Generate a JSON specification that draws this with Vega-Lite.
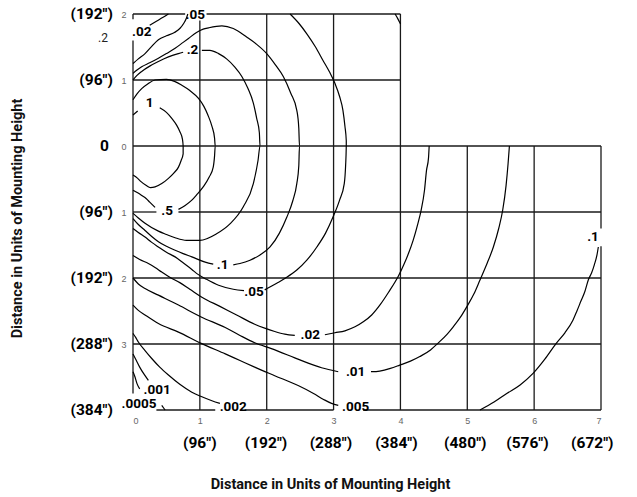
{
"$schema": "https://vega.github.io/schema/vega-lite/v6.json",
"width": 468, "height": 396,
"autosize": {"type": "none"},
"padding": {"left": 133, "top": 14, "right": 36, "bottom": 87},
"background": "white",
"config": {"view": {"stroke": null}},
"datasets": {
"grid": [
{"x":0,"x2":0,"y":2,"y2":1.92},{"x":0,"x2":0,"y":1.6,"y2":-3.75},
{"x":1,"x2":1,"y":1.9,"y2":-4},{"x":2,"x2":2,"y":2,"y2":-4},{"x":3,"x2":3,"y":2,"y2":-4},{"x":4,"x2":4,"y":2,"y2":-4},
{"x":5,"x2":5,"y":0,"y2":-4},{"x":6,"x2":6,"y":0,"y2":-4},
{"x":7,"x2":7,"y":0,"y2":-1.25},{"x":7,"x2":7,"y":-1.52,"y2":-4},
{"x":0,"x2":0.78,"y":2,"y2":2},{"x":1.1,"x2":4,"y":2,"y2":2},
{"x":0,"x2":4,"y":1,"y2":1},{"x":0,"x2":7,"y":0,"y2":0},
{"x":0,"x2":0.35,"y":-1,"y2":-1},{"x":0.68,"x2":7,"y":-1,"y2":-1},
{"x":0,"x2":7,"y":-2,"y2":-2},{"x":0,"x2":7,"y":-3,"y2":-3},
{"x":0.35,"x2":1.23,"y":-4,"y2":-4},{"x":1.67,"x2":3.0,"y":-4,"y2":-4},{"x":3.44,"x2":7,"y":-4,"y2":-4}
],
"contours": [
{"s":"1a","o":1,"x":0,"y":0.47},{"s":"1a","o":2,"x":0.07,"y":0.53},
{"s":"1b","o":1,"x":0.40,"y":0.58},{"s":"1b","o":2,"x":0.50,"y":0.51},{"s":"1b","o":3,"x":0.58,"y":0.42},{"s":"1b","o":4,"x":0.65,"y":0.32},{"s":"1b","o":5,"x":0.70,"y":0.22},{"s":"1b","o":6,"x":0.74,"y":0.10},{"s":"1b","o":7,"x":0.75,"y":0},{"s":"1b","o":8,"x":0.75,"y":-0.12},{"s":"1b","o":9,"x":0.72,"y":-0.22},{"s":"1b","o":10,"x":0.68,"y":-0.32},{"s":"1b","o":11,"x":0.61,"y":-0.41},{"s":"1b","o":12,"x":0.53,"y":-0.49},{"s":"1b","o":13,"x":0.43,"y":-0.57},{"s":"1b","o":14,"x":0.33,"y":-0.62},{"s":"1b","o":15,"x":0.26,"y":-0.63},{"s":"1b","o":16,"x":0.2,"y":-0.6},{"s":"1b","o":17,"x":0.12,"y":-0.54},{"s":"1b","o":18,"x":0.07,"y":-0.49},{"s":"1b","o":19,"x":0,"y":-0.44},
{"s":"5a","o":1,"x":0,"y":0.70},{"s":"5a","o":2,"x":0.06,"y":0.79},{"s":"5a","o":3,"x":0.13,"y":0.87},{"s":"5a","o":4,"x":0.22,"y":0.94},{"s":"5a","o":5,"x":0.33,"y":1.0},{"s":"5a","o":6,"x":0.5,"y":1.01},{"s":"5a","o":7,"x":0.62,"y":0.98},{"s":"5a","o":8,"x":0.73,"y":0.92},{"s":"5a","o":9,"x":0.85,"y":0.84},{"s":"5a","o":10,"x":0.98,"y":0.72},{"s":"5a","o":11,"x":1.06,"y":0.6},{"s":"5a","o":12,"x":1.12,"y":0.47},{"s":"5a","o":13,"x":1.18,"y":0.3},{"s":"5a","o":14,"x":1.22,"y":0.12},{"s":"5a","o":15,"x":1.23,"y":0},{"s":"5a","o":16,"x":1.22,"y":-0.15},{"s":"5a","o":17,"x":1.20,"y":-0.32},{"s":"5a","o":18,"x":1.14,"y":-0.47},{"s":"5a","o":19,"x":1.05,"y":-0.62},{"s":"5a","o":20,"x":0.96,"y":-0.73},{"s":"5a","o":21,"x":0.88,"y":-0.82},{"s":"5a","o":22,"x":0.78,"y":-0.9},{"s":"5a","o":23,"x":0.68,"y":-0.96},
{"s":"5b","o":1,"x":0,"y":-0.67},{"s":"5b","o":2,"x":0.07,"y":-0.71},{"s":"5b","o":3,"x":0.13,"y":-0.75},{"s":"5b","o":4,"x":0.2,"y":-0.8},{"s":"5b","o":5,"x":0.25,"y":-0.85},{"s":"5b","o":6,"x":0.33,"y":-0.93},
{"s":"2a","o":1,"x":0,"y":1.0},{"s":"2a","o":2,"x":0.06,"y":1.07},{"s":"2a","o":3,"x":0.13,"y":1.13},{"s":"2a","o":4,"x":0.25,"y":1.21},{"s":"2a","o":5,"x":0.38,"y":1.28},{"s":"2a","o":6,"x":0.53,"y":1.35},{"s":"2a","o":7,"x":0.68,"y":1.40},{"s":"2a","o":8,"x":0.75,"y":1.42},
{"s":"2b","o":1,"x":1.03,"y":1.45},{"s":"2b","o":2,"x":1.15,"y":1.45},{"s":"2b","o":3,"x":1.28,"y":1.40},{"s":"2b","o":4,"x":1.40,"y":1.32},{"s":"2b","o":5,"x":1.52,"y":1.20},{"s":"2b","o":6,"x":1.63,"y":1.05},{"s":"2b","o":7,"x":1.72,"y":0.87},{"s":"2b","o":8,"x":1.80,"y":0.65},{"s":"2b","o":9,"x":1.85,"y":0.42},{"s":"2b","o":10,"x":1.89,"y":0.2},{"s":"2b","o":11,"x":1.9,"y":0},{"s":"2b","o":12,"x":1.87,"y":-0.22},{"s":"2b","o":13,"x":1.8,"y":-0.57},{"s":"2b","o":14,"x":1.65,"y":-0.92},{"s":"2b","o":15,"x":1.45,"y":-1.18},{"s":"2b","o":16,"x":1.25,"y":-1.33},{"s":"2b","o":17,"x":1.0,"y":-1.43},{"s":"2b","o":18,"x":0.8,"y":-1.43},{"s":"2b","o":19,"x":0.63,"y":-1.39},{"s":"2b","o":20,"x":0.5,"y":-1.34},{"s":"2b","o":21,"x":0.38,"y":-1.29},{"s":"2b","o":22,"x":0.18,"y":-1.17},{"s":"2b","o":23,"x":0.08,"y":-1.09},{"s":"2b","o":24,"x":0,"y":-1.02},
{"s":"1ua","o":1,"x":0,"y":1.1},{"s":"1ua","o":2,"x":0.06,"y":1.15},{"s":"1ua","o":3,"x":0.13,"y":1.20},{"s":"1ua","o":4,"x":0.25,"y":1.26},{"s":"1ua","o":5,"x":0.38,"y":1.33},{"s":"1ua","o":6,"x":0.5,"y":1.40},{"s":"1ua","o":7,"x":0.63,"y":1.48},{"s":"1ua","o":8,"x":0.75,"y":1.57},{"s":"1ua","o":9,"x":0.83,"y":1.63},{"s":"1ua","o":10,"x":0.95,"y":1.72},{"s":"1ua","o":11,"x":1.05,"y":1.77},{"s":"1ua","o":12,"x":1.13,"y":1.79},{"s":"1ua","o":13,"x":1.33,"y":1.82},{"s":"1ua","o":14,"x":1.50,"y":1.78},{"s":"1ua","o":15,"x":1.70,"y":1.65},{"s":"1ua","o":16,"x":1.85,"y":1.54},{"s":"1ua","o":17,"x":2.0,"y":1.40},{"s":"1ua","o":18,"x":2.13,"y":1.23},{"s":"1ua","o":19,"x":2.25,"y":1.05},{"s":"1ua","o":20,"x":2.36,"y":0.8},{"s":"1ua","o":21,"x":2.45,"y":0.54},{"s":"1ua","o":22,"x":2.48,"y":0.27},{"s":"1ua","o":23,"x":2.49,"y":0},{"s":"1ua","o":24,"x":2.48,"y":-0.3},{"s":"1ua","o":25,"x":2.45,"y":-0.57},{"s":"1ua","o":26,"x":2.39,"y":-0.83},{"s":"1ua","o":27,"x":2.3,"y":-1.08},{"s":"1ua","o":28,"x":2.19,"y":-1.32},{"s":"1ua","o":29,"x":2.05,"y":-1.53},{"s":"1ua","o":30,"x":1.9,"y":-1.65},{"s":"1ua","o":31,"x":1.75,"y":-1.73},{"s":"1ua","o":32,"x":1.6,"y":-1.78},{"s":"1ua","o":33,"x":1.5,"y":-1.80},
{"s":"1ub","o":1,"x":1.20,"y":-1.79},{"s":"1ub","o":2,"x":1.08,"y":-1.76},{"s":"1ub","o":3,"x":0.88,"y":-1.68},{"s":"1ub","o":4,"x":0.75,"y":-1.63},{"s":"1ub","o":5,"x":0.63,"y":-1.58},{"s":"1ub","o":6,"x":0.5,"y":-1.52},{"s":"1ub","o":7,"x":0.38,"y":-1.45},{"s":"1ub","o":8,"x":0.28,"y":-1.37},{"s":"1ub","o":9,"x":0.18,"y":-1.28},{"s":"1ub","o":10,"x":0.08,"y":-1.19},{"s":"1ub","o":11,"x":0,"y":-1.1},
{"s":"05a","o":1,"x":0,"y":1.25},{"s":"05a","o":2,"x":0.08,"y":1.32},{"s":"05a","o":3,"x":0.18,"y":1.40},{"s":"05a","o":4,"x":0.28,"y":1.51},{"s":"05a","o":5,"x":0.38,"y":1.61},{"s":"05a","o":6,"x":0.5,"y":1.67},{"s":"05a","o":7,"x":0.62,"y":1.72},{"s":"05a","o":8,"x":0.70,"y":1.78},{"s":"05a","o":9,"x":0.76,"y":1.86},{"s":"05a","o":10,"x":0.80,"y":1.94},{"s":"05a","o":11,"x":0.82,"y":2.0},
{"s":"05b","o":1,"x":2.35,"y":2.0},{"s":"05b","o":2,"x":2.48,"y":1.86},{"s":"05b","o":3,"x":2.6,"y":1.70},{"s":"05b","o":4,"x":2.73,"y":1.5},{"s":"05b","o":5,"x":2.84,"y":1.30},{"s":"05b","o":6,"x":2.94,"y":1.12},{"s":"05b","o":7,"x":3.02,"y":0.95},{"s":"05b","o":8,"x":3.09,"y":0.75},{"s":"05b","o":9,"x":3.14,"y":0.54},{"s":"05b","o":10,"x":3.17,"y":0.3},{"s":"05b","o":11,"x":3.19,"y":0.08},{"s":"05b","o":12,"x":3.19,"y":0},{"s":"05b","o":13,"x":3.18,"y":-0.3},{"s":"05b","o":14,"x":3.16,"y":-0.57},{"s":"05b","o":15,"x":3.09,"y":-0.82},{"s":"05b","o":16,"x":2.99,"y":-1.08},{"s":"05b","o":17,"x":2.88,"y":-1.32},{"s":"05b","o":18,"x":2.75,"y":-1.53},{"s":"05b","o":19,"x":2.6,"y":-1.73},{"s":"05b","o":20,"x":2.45,"y":-1.88},{"s":"05b","o":21,"x":2.3,"y":-1.99},{"s":"05b","o":22,"x":2.15,"y":-2.08},{"s":"05b","o":23,"x":1.97,"y":-2.18},
{"s":"05c","o":1,"x":1.66,"y":-2.19},{"s":"05c","o":2,"x":1.5,"y":-2.17},{"s":"05c","o":3,"x":1.28,"y":-2.11},{"s":"05c","o":4,"x":1.1,"y":-2.02},{"s":"05c","o":5,"x":0.95,"y":-1.93},{"s":"05c","o":6,"x":0.88,"y":-1.87},{"s":"05c","o":7,"x":0.75,"y":-1.77},{"s":"05c","o":8,"x":0.63,"y":-1.68},{"s":"05c","o":9,"x":0.5,"y":-1.61},{"s":"05c","o":10,"x":0.38,"y":-1.53},{"s":"05c","o":11,"x":0.28,"y":-1.46},{"s":"05c","o":12,"x":0.18,"y":-1.38},{"s":"05c","o":13,"x":0.08,"y":-1.31},{"s":"05c","o":14,"x":0,"y":-1.25},
{"s":"02a","o":1,"x":0.25,"y":1.83},{"s":"02a","o":2,"x":0.35,"y":1.89},{"s":"02a","o":3,"x":0.45,"y":1.95},{"s":"02a","o":4,"x":0.53,"y":2.0},
{"s":"02b","o":1,"x":3.92,"y":2.0},{"s":"02b","o":2,"x":3.96,"y":1.93},{"s":"02b","o":3,"x":4.0,"y":1.85},
{"s":"02c","o":1,"x":4.43,"y":0},{"s":"02c","o":2,"x":4.42,"y":-0.18},{"s":"02c","o":3,"x":4.39,"y":-0.37},{"s":"02c","o":4,"x":4.36,"y":-0.67},{"s":"02c","o":5,"x":4.31,"y":-0.97},{"s":"02c","o":6,"x":4.26,"y":-1.18},{"s":"02c","o":7,"x":4.19,"y":-1.43},{"s":"02c","o":8,"x":4.12,"y":-1.63},{"s":"02c","o":9,"x":4.05,"y":-1.8},{"s":"02c","o":10,"x":3.97,"y":-1.97},{"s":"02c","o":11,"x":3.82,"y":-2.22},{"s":"02c","o":12,"x":3.7,"y":-2.4},{"s":"02c","o":13,"x":3.57,"y":-2.56},{"s":"02c","o":14,"x":3.45,"y":-2.66},{"s":"02c","o":15,"x":3.32,"y":-2.74},{"s":"02c","o":16,"x":3.17,"y":-2.8},{"s":"02c","o":17,"x":3.02,"y":-2.83},{"s":"02c","o":18,"x":2.87,"y":-2.86},
{"s":"02d","o":1,"x":2.42,"y":-2.87},{"s":"02d","o":2,"x":2.27,"y":-2.85},{"s":"02d","o":3,"x":2.12,"y":-2.81},{"s":"02d","o":4,"x":1.97,"y":-2.76},{"s":"02d","o":5,"x":1.82,"y":-2.70},{"s":"02d","o":6,"x":1.55,"y":-2.56},{"s":"02d","o":7,"x":1.3,"y":-2.43},{"s":"02d","o":8,"x":1.03,"y":-2.29},{"s":"02d","o":9,"x":0.85,"y":-2.17},{"s":"02d","o":10,"x":0.7,"y":-2.07},{"s":"02d","o":11,"x":0.55,"y":-1.99},{"s":"02d","o":12,"x":0.43,"y":-1.91},{"s":"02d","o":13,"x":0.33,"y":-1.84},{"s":"02d","o":14,"x":0.23,"y":-1.78},{"s":"02d","o":15,"x":0.1,"y":-1.72},{"s":"02d","o":16,"x":0,"y":-1.66},
{"s":"01a","o":1,"x":0,"y":-2.0},{"s":"01a","o":2,"x":0.08,"y":-2.09},{"s":"01a","o":3,"x":0.18,"y":-2.16},{"s":"01a","o":4,"x":0.38,"y":-2.26},{"s":"01a","o":5,"x":0.68,"y":-2.41},{"s":"01a","o":6,"x":1.02,"y":-2.59},{"s":"01a","o":7,"x":1.38,"y":-2.75},{"s":"01a","o":8,"x":1.6,"y":-2.87},{"s":"01a","o":9,"x":1.82,"y":-2.98},{"s":"01a","o":10,"x":2.07,"y":-3.07},{"s":"01a","o":11,"x":2.42,"y":-3.21},{"s":"01a","o":12,"x":2.62,"y":-3.29},{"s":"01a","o":13,"x":2.82,"y":-3.36},{"s":"01a","o":14,"x":3.07,"y":-3.42},
{"s":"01b","o":1,"x":3.56,"y":-3.42},{"s":"01b","o":2,"x":3.69,"y":-3.41},{"s":"01b","o":3,"x":3.85,"y":-3.37},{"s":"01b","o":4,"x":3.99,"y":-3.32},{"s":"01b","o":5,"x":4.15,"y":-3.26},{"s":"01b","o":6,"x":4.29,"y":-3.19},{"s":"01b","o":7,"x":4.45,"y":-3.09},{"s":"01b","o":8,"x":4.56,"y":-2.99},{"s":"01b","o":9,"x":4.7,"y":-2.85},{"s":"01b","o":10,"x":4.79,"y":-2.74},{"s":"01b","o":11,"x":4.9,"y":-2.59},{"s":"01b","o":12,"x":4.99,"y":-2.44},{"s":"01b","o":13,"x":5.1,"y":-2.24},{"s":"01b","o":14,"x":5.19,"y":-2.03},{"s":"01b","o":15,"x":5.3,"y":-1.77},{"s":"01b","o":16,"x":5.39,"y":-1.53},{"s":"01b","o":17,"x":5.47,"y":-1.25},{"s":"01b","o":18,"x":5.53,"y":-0.97},{"s":"01b","o":19,"x":5.58,"y":-0.6},{"s":"01b","o":20,"x":5.61,"y":-0.27},{"s":"01b","o":21,"x":5.63,"y":0},
{"s":"005","o":1,"x":0,"y":-2.41},{"s":"005","o":2,"x":0.08,"y":-2.49},{"s":"005","o":3,"x":0.18,"y":-2.56},{"s":"005","o":4,"x":0.38,"y":-2.69},{"s":"005","o":5,"x":0.68,"y":-2.82},{"s":"005","o":6,"x":1.02,"y":-2.99},{"s":"005","o":7,"x":1.38,"y":-3.15},{"s":"005","o":8,"x":1.6,"y":-3.25},{"s":"005","o":9,"x":1.82,"y":-3.35},{"s":"005","o":10,"x":2.12,"y":-3.48},{"s":"005","o":11,"x":2.47,"y":-3.63},{"s":"005","o":12,"x":2.7,"y":-3.75},{"s":"005","o":13,"x":2.85,"y":-3.84},{"s":"005","o":14,"x":2.97,"y":-3.9},{"s":"005","o":15,"x":3.07,"y":-3.93},
{"s":"002","o":1,"x":0,"y":-2.84},{"s":"002","o":2,"x":0.04,"y":-2.9},{"s":"002","o":3,"x":0.08,"y":-2.97},{"s":"002","o":4,"x":0.18,"y":-3.1},{"s":"002","o":5,"x":0.28,"y":-3.22},{"s":"002","o":6,"x":0.4,"y":-3.35},{"s":"002","o":7,"x":0.53,"y":-3.47},{"s":"002","o":8,"x":0.7,"y":-3.61},{"s":"002","o":9,"x":0.88,"y":-3.73},{"s":"002","o":10,"x":1.03,"y":-3.8},{"s":"002","o":11,"x":1.18,"y":-3.86},{"s":"002","o":12,"x":1.30,"y":-3.9},
{"s":"001","o":1,"x":0,"y":-3.15},{"s":"001","o":2,"x":0.05,"y":-3.25},{"s":"001","o":3,"x":0.1,"y":-3.35},{"s":"001","o":4,"x":0.16,"y":-3.45},{"s":"001","o":5,"x":0.23,"y":-3.55},
{"s":"0005","o":1,"x":0,"y":-3.42},{"s":"0005","o":2,"x":0.03,"y":-3.5},{"s":"0005","o":3,"x":0.06,"y":-3.6},{"s":"0005","o":4,"x":0.1,"y":-3.68},
{"s":"0005t","o":1,"x":0.43,"y":-3.93},{"s":"0005t","o":2,"x":0.48,"y":-4.0},
{"s":"1r","o":1,"x":6.96,"y":-1.53},{"s":"1r","o":2,"x":6.94,"y":-1.65},{"s":"1r","o":3,"x":6.90,"y":-1.80},{"s":"1r","o":4,"x":6.86,"y":-1.92},{"s":"1r","o":5,"x":6.81,"y":-2.03},{"s":"1r","o":6,"x":6.76,"y":-2.2},{"s":"1r","o":7,"x":6.70,"y":-2.35},{"s":"1r","o":8,"x":6.64,"y":-2.5},{"s":"1r","o":9,"x":6.58,"y":-2.64},{"s":"1r","o":10,"x":6.46,"y":-2.83},{"s":"1r","o":11,"x":6.33,"y":-2.99},{"s":"1r","o":12,"x":6.16,"y":-3.23},{"s":"1r","o":13,"x":5.98,"y":-3.45},{"s":"1r","o":14,"x":5.79,"y":-3.62},{"s":"1r","o":15,"x":5.59,"y":-3.75},{"s":"1r","o":16,"x":5.4,"y":-3.88},{"s":"1r","o":17,"x":5.19,"y":-4.0}
],
"labels": [
{"t":"1","x":0.25,"y":0.65},{"t":".5","x":0.51,"y":-0.99},{"t":".2","x":0.89,"y":1.46},{"t":".1","x":1.34,"y":-1.81},
{"t":".05","x":0.93,"y":1.99},{"t":".05","x":1.81,"y":-2.21},{"t":".02","x":0.13,"y":1.72},{"t":".02","x":2.65,"y":-2.86},
{"t":".01","x":3.33,"y":-3.42},{"t":".005","x":3.33,"y":-3.95},{"t":".002","x":1.50,"y":-3.95},{"t":".001","x":0.36,"y":-3.69},
{"t":".0005","x":0.09,"y":-3.91},{"t":".1","x":6.88,"y":-1.38}
],
"stray": [{"t":".2","x":-0.45,"y":1.63}],
"left": [
{"t":"(192\")","x":-0.30,"y":2},{"t":"(96\")","x":-0.30,"y":1},{"t":"0","x":-0.36,"y":0},{"t":"(96\")","x":-0.30,"y":-1},
{"t":"(192\")","x":-0.30,"y":-2},{"t":"(288\")","x":-0.30,"y":-3},{"t":"(384\")","x":-0.30,"y":-4}
],
"bottom": [
{"t":"(96\")","x":1.0,"y":-4.5},{"t":"(192\")","x":1.99,"y":-4.5},{"t":"(288\")","x":2.96,"y":-4.5},{"t":"(384\")","x":3.94,"y":-4.5},
{"t":"(480\")","x":4.97,"y":-4.5},{"t":"(576\")","x":5.9,"y":-4.5},{"t":"(672\")","x":6.87,"y":-4.5}
]
},
"encoding": {
  "x": {"field": "x", "type": "quantitative", "scale": {"domain": [0, 7], "nice": false, "zero": false},
        "axis": {"values": [0,1,2,3,4,5,6,7], "domain": false, "ticks": false, "grid": false, "labelFont": "Liberation Sans", "labelFontSize": 9, "labelColor": "#666", "labelPadding": 6,
                 "title": "Distance in Units of Mounting Height", "titleFont": "Roboto", "titleFontSize": 14.5, "titleFontWeight": "bold", "titleColor": "#111", "titleX": 197, "titleY": 74, "titleAlign": "center", "titleBaseline": "middle"}},
  "y": {"field": "y", "type": "quantitative", "scale": {"domain": [-4, 2], "nice": false, "zero": false},
        "axis": {"values": [2,1,0,-1,-2,-3], "labelExpr": "abs(datum.value)", "domain": false, "ticks": false, "grid": false, "labelFont": "Liberation Sans", "labelFontSize": 9, "labelColor": "#666", "labelPadding": 7,
                 "title": "Distance in Units of Mounting Height", "titleFont": "Roboto", "titleFontSize": 14.5, "titleFontWeight": "bold", "titleColor": "#111", "titleX": -116, "titleY": 204, "titleAngle": -90, "titleAlign": "center", "titleBaseline": "middle"}}
},
"layer": [
{"data": {"name": "grid"},
 "mark": {"type": "rule", "stroke": "#1a1a1a", "strokeWidth": 1.3},
 "encoding": {"x2": {"field": "x2"}, "y2": {"field": "y2"}}},
{"data": {"name": "contours"},
 "mark": {"type": "line", "stroke": "#000", "strokeWidth": 1.2, "interpolate": "monotone", "clip": false},
 "encoding": {"detail": {"field": "s"}, "order": {"field": "o", "type": "quantitative"}}},
{"data": {"name": "labels"},
 "mark": {"type": "text", "font": "Roboto", "fontWeight": "bold", "fontSize": 13.5, "color": "#000", "align": "center", "baseline": "middle", "clip": false},
 "encoding": {"text": {"field": "t"}}},
{"data": {"name": "stray"},
 "mark": {"type": "text", "font": "Roboto", "fontSize": 12, "color": "#222", "align": "center", "baseline": "middle", "clip": false},
 "encoding": {"text": {"field": "t"}}},
{"data": {"name": "left"},
 "mark": {"type": "text", "font": "Roboto", "fontWeight": "bold", "fontSize": 15.5, "color": "#000", "align": "right", "baseline": "middle", "clip": false},
 "encoding": {"text": {"field": "t"}}},
{"data": {"name": "bottom"},
 "mark": {"type": "text", "font": "Roboto", "fontWeight": "bold", "fontSize": 15.5, "color": "#000", "align": "center", "baseline": "middle", "clip": false},
 "encoding": {"text": {"field": "t"}}}
]
}
